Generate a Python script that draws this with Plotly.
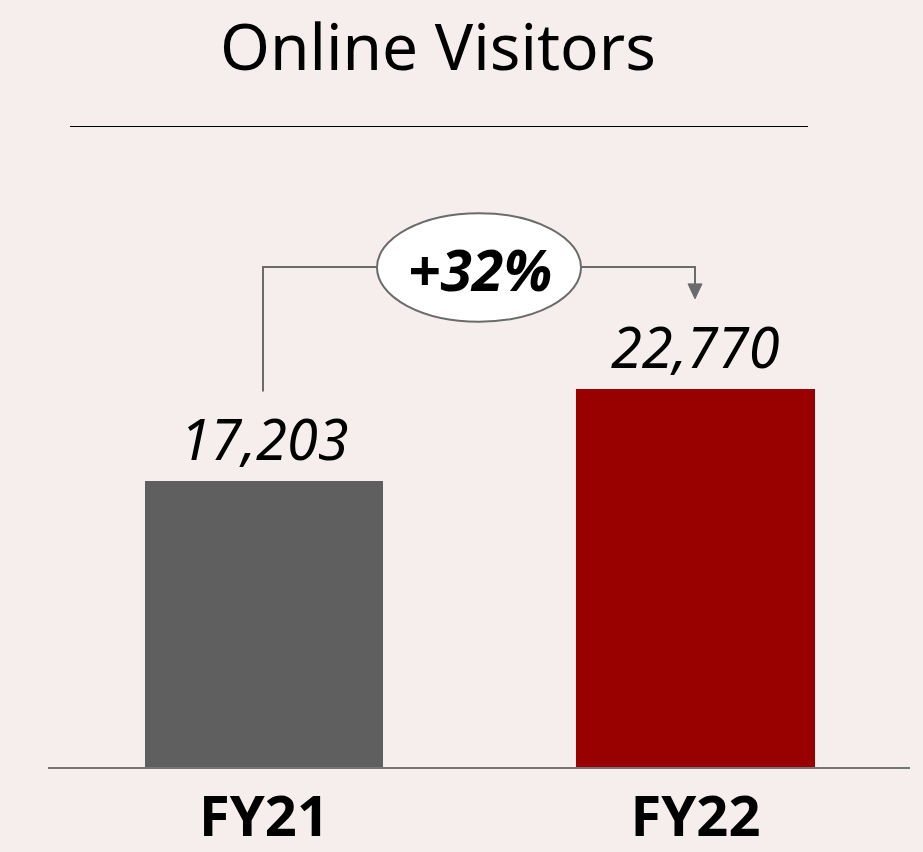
import plotly.graph_objects as go

categories = ["FY21", "FY22"]
visitors = [17203, 22770]
value_labels = ["17,203", "22,770"]
bar_colors = ["#5f5f5f", "#990000"]
growth_label = "+32%"
title_text = "Online Visitors"

W, H = 923, 852
ML, MR, MT, MB = 48, 13, 0, 82
PW, PH = W - ML - MR, H - MT - MB

def px(x):
    return (x - ML) / PW

def py(y):
    return (H - MB - y) / PH

FONT = "Noto Sans"
LINE = "#6b6b6b"

fig = go.Figure()
fig.add_trace(go.Bar(
    x=categories, y=visitors, marker_color=bar_colors, width=0.552,
    marker_line_width=0, hoverinfo="skip"
))

for c, v, t in zip(categories, visitors, value_labels):
    fig.add_annotation(x=c, y=v, text=f"<i>{t}</i>", showarrow=False, yanchor="bottom",
                       yshift=3, font=dict(family=FONT, size=56, color="black"))

# title
fig.add_annotation(xref="paper", yref="paper", x=px(438), y=py(46), text=title_text,
                   showarrow=False, xanchor="center", yanchor="middle",
                   font=dict(family=FONT, size=64, color="black"))

shapes = []
# title rule
shapes.append(dict(type="line", xref="paper", yref="paper", x0=px(70), x1=px(808),
                   y0=py(127), y1=py(127), line=dict(color="black", width=1.2)))
# bracket left
shapes.append(dict(type="path", xref="paper", yref="paper",
                   path=f"M {px(263)} {py(393)} L {px(263)} {py(268)} L {px(378)} {py(268)}",
                   line=dict(color=LINE, width=2)))
# bracket right
shapes.append(dict(type="path", xref="paper", yref="paper",
                   path=f"M {px(580)} {py(268)} L {px(695)} {py(268)} L {px(695)} {py(286)}",
                   line=dict(color=LINE, width=2)))
# arrow head
shapes.append(dict(type="path", xref="paper", yref="paper",
                   path=f"M {px(688)} {py(285)} L {px(702)} {py(285)} L {px(695)} {py(300)} Z",
                   fillcolor=LINE, line=dict(color=LINE, width=1)))
# ellipse
shapes.append(dict(type="circle", xref="paper", yref="paper",
                   x0=px(377), x1=px(581), y0=py(323), y1=py(214),
                   fillcolor="white", line=dict(color=LINE, width=2)))
fig.update_layout(shapes=shapes)

fig.add_annotation(xref="paper", yref="paper", x=px(480), y=py(270),
                   text=f"<b><i>{growth_label}</i></b>", showarrow=False,
                   xanchor="center", yanchor="middle",
                   font=dict(family=FONT, size=57, color="black"))

fig.update_layout(
    width=W, height=H,
    margin=dict(l=ML, r=MR, t=MT, b=MB, pad=0),
    paper_bgcolor="#f6eeed", plot_bgcolor="#f6eeed",
    showlegend=False,
    bargap=0,
    xaxis=dict(range=[-0.5006, 1.4971], showgrid=False, zeroline=False,
               showline=True, linecolor="#757575", linewidth=2,
               ticks="", tickfont=dict(family=FONT, size=56, color="black"),
               tickprefix="<b>", ticksuffix="</b>", fixedrange=True),
    yaxis=dict(range=[0, 770 * 60], visible=False, fixedrange=True),
)

fig.write_html("out.html", config={"displayModeBar": False},
               post_script="document.body.style.margin='0';document.body.style.background='#f6eeed';document.body.style.overflow='hidden';")
